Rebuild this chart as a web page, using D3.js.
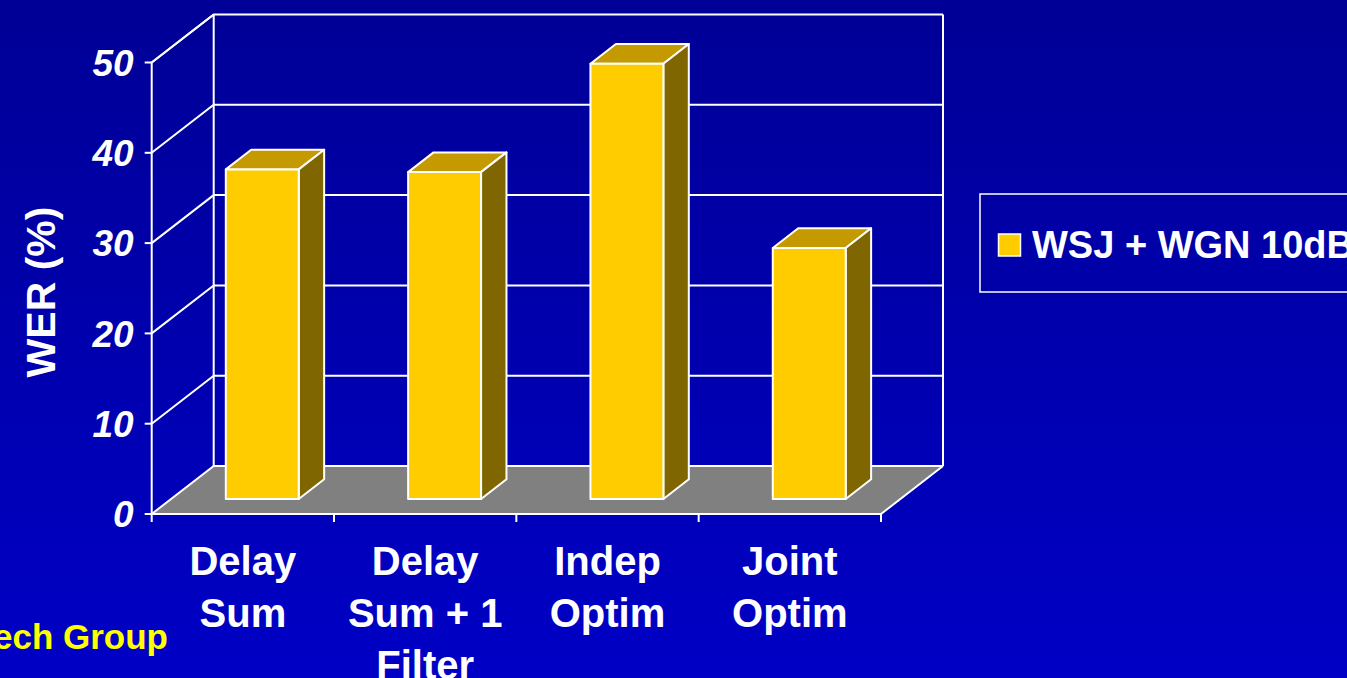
<!DOCTYPE html>
<html><head><meta charset="utf-8">
<script src="https://cdn.jsdelivr.net/npm/d3@7"></script>
<style>html,body{margin:0;padding:0;overflow:hidden;background:#0000b0}</style>
</head><body>
<script>
const categories = [["Delay","Sum"],["Delay","Sum + 1","Filter"],["Indep","Optim"],["Joint","Optim"]];
const seriesName = "WSJ + WGN 10dB";
const werValues = [36.5, 36.2, 48.2, 27.8];
const yTicks = [0,10,20,30,40,50];
const yTitle = "WER (%)";
const footer = "ech Group";

const W=1347,H=678;
const svg=d3.select("body").append("svg").attr("width",W).attr("height",H)
  .style("font-family","'Liberation Sans', Arial, sans-serif");
const defs=svg.append("defs");
const g=defs.append("linearGradient").attr("id","bg").attr("x1",0).attr("y1",0).attr("x2",0).attr("y2",1);
g.append("stop").attr("offset","0%").attr("stop-color","#000096");
g.append("stop").attr("offset","100%").attr("stop-color","#0000C6");
svg.append("rect").attr("width",W).attr("height",H).attr("fill","url(#bg)");

const x=d3.scaleBand().domain(d3.range(categories.length)).range([151.7,881]).paddingInner(0.6).paddingOuter(0.3);
const y=d3.scaleLinear().domain([0,50]).range([514,62.5]);
const DX=62, DY=-48;
const f0=0.313, fd=0.41;
const lineC="#ffffff", lw=2;
const x0=x.range()[0], x1=x.range()[1];

// floor
svg.append("path").attr("d",`M${x0},${y(0)}L${x1},${y(0)}L${x1+DX},${y(0)+DY}L${x0+DX},${y(0)+DY}Z`)
  .attr("fill","#808080").attr("stroke","none");
// back wall gridlines
const grid=svg.append("g").attr("stroke",lineC).attr("stroke-width",lw).attr("fill","none");
yTicks.forEach(t=>{
  grid.append("path").attr("d",`M${x0},${y(t)}L${x0+DX},${y(t)+DY}L${x1+DX},${y(t)+DY}`);
});
grid.append("line").attr("x1",x0+DX).attr("x2",x0+DX).attr("y1",y(0)+DY).attr("y2",y(50)+DY);
grid.append("line").attr("x1",x1+DX).attr("x2",x1+DX).attr("y1",y(0)+DY).attr("y2",y(50)+DY);
grid.append("line").attr("x1",x1).attr("x2",x1+DX).attr("y1",y(0)).attr("y2",y(0)+DY);

// bars
const bars=svg.append("g");
werValues.forEach((v,i)=>{
  const bx=x(i)+f0*DX, by=y(0)+f0*DY, bw=x.bandwidth(), top=y(v)+f0*DY;
  const ddx=fd*DX, ddy=fd*DY;
  const gb=bars.append("g").attr("stroke",lineC).attr("stroke-width",lw).attr("stroke-linejoin","round");
  gb.append("path").attr("fill","#C49A00")
    .attr("d",`M${bx},${top}L${bx+ddx},${top+ddy}L${bx+bw+ddx},${top+ddy}L${bx+bw},${top}Z`);
  gb.append("path").attr("fill","#806600")
    .attr("d",`M${bx+bw},${top}L${bx+bw+ddx},${top+ddy}L${bx+bw+ddx},${by+ddy}L${bx+bw},${by}Z`);
  gb.append("rect").attr("fill","#FFCC00").attr("x",bx).attr("y",top).attr("width",bw).attr("height",by-top);
});

// front axes
const ax=svg.append("g").attr("stroke",lineC).attr("stroke-width",lw);
ax.append("line").attr("x1",x0).attr("x2",x0).attr("y1",y(0)).attr("y2",y(50));
ax.append("line").attr("x1",x0).attr("x2",x0+DX).attr("y1",y(50)).attr("y2",y(50)+DY);
ax.append("line").attr("x1",x0).attr("x2",x1).attr("y1",y(0)).attr("y2",y(0));
yTicks.forEach(t=>ax.append("line").attr("x1",x0-7).attr("x2",x0).attr("y1",y(t)).attr("y2",y(t)));
const step=x.step();
d3.range(categories.length+1).forEach(k=>{
  const xx=x0+k*step;
  ax.append("line").attr("x1",xx).attr("x2",xx).attr("y1",y(0)).attr("y2",y(0)+8);
});

// tick labels
svg.append("g").selectAll("text").data(yTicks).join("text")
  .attr("x",x0-18).attr("y",d=>y(d)).attr("dy","0.36em").attr("text-anchor","end")
  .attr("fill","#fff").attr("font-size",37).attr("font-weight","bold").attr("font-style","italic")
  .text(d=>d);

// category labels
categories.forEach((lines,i)=>{
  const cx=x(i)+x.bandwidth()/2;
  const t=svg.append("text").attr("text-anchor","middle").attr("fill","#fff")
    .attr("font-size",40).attr("font-weight","bold");
  lines.forEach((s,j)=>t.append("tspan").attr("x",cx).attr("y",575+j*52).text(s));
});

// y title
svg.append("text").attr("transform","translate(55,292) rotate(-90)").attr("text-anchor","middle")
  .attr("fill","#fff").attr("font-size",41).attr("font-weight","bold").text(yTitle);

// legend
const lg=svg.append("g");
lg.append("rect").attr("x",980).attr("y",194).attr("width",400).attr("height",98)
  .attr("fill","none").attr("stroke",lineC).attr("stroke-width",1.5);
lg.append("rect").attr("x",998.5).attr("y",234).attr("width",22).attr("height",22)
  .attr("fill","#FFCC00").attr("stroke",lineC).attr("stroke-width",1.5);
lg.append("text").attr("x",1032).attr("y",258).attr("fill","#fff").attr("font-size",38)
  .attr("font-weight","bold").text(seriesName);

// footer
svg.append("text").attr("x",168).attr("y",649).attr("text-anchor","end").attr("fill","#FFFF00")
  .attr("font-size",35).attr("font-weight","bold").text(footer);
</script>
</body></html>
